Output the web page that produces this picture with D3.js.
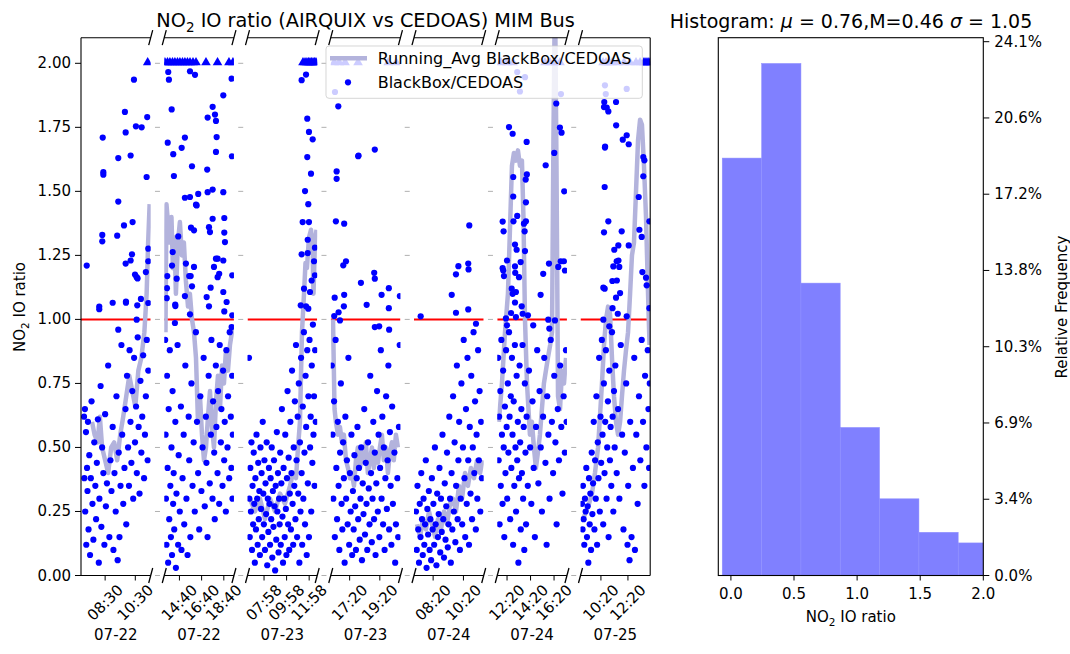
<!DOCTYPE html>
<html><head><meta charset="utf-8">
<script src="https://d3js.org/d3.v7.min.js"></script>
<style>body{margin:0;background:#fff}svg{display:block;font-family:"DejaVu Sans",sans-serif}</style>
</head><body><svg id="c" width="1070" height="654"></svg>
<script>
// ---------------- DATA ----------------
const segDates = ["07-22","07-22","07-23","07-23","07-24","07-24","07-25"];
// time windows of each broken-axis segment (decimal hours)
const segDomains = [[6.90,11.52],[13.30,19.58],[6.50,12.68],[16.08,20.70],[7.07,11.67],[11.50,17.43],[8.82,13.98]];
const segTicks = [[8.5,10.5],[14.667,16.667,18.667],[7.967,9.967,11.967],[17.333,19.333],[8.333,10.333],[12.333,14.333,16.333],[10.333,12.333]];
const segTickLabels = [["08:30","10:30"],["14:40","16:40","18:40"],["07:58","09:58","11:58"],["17:20","19:20"],["08:20","10:20"],["12:20","14:20","16:20"],["10:20","12:20"]];

// BlackBox/CEDOAS ratio points [hour, ratio]
const seg1Pts = [[7.28,1.21],[8.11,1.05],[8.11,1.04],[8.34,1.71],[8.38,1.575],[8.38,1.565],[8.31,1.33],[8.31,1.305],[9.0,1.065],[9.3,1.327],[9.37,1.46],[9.37,1.63],[9.37,0.96],[9.75,1.367],[9.81,1.81],[9.86,1.73],[9.86,1.218],[9.88,1.07],[9.88,1.065],[10.19,1.64],[10.19,1.23],[10.32,1.38],[10.28,1.254],[10.41,1.936],[10.48,1.175],[10.54,1.754],[10.59,1.165],[10.59,0.999],[10.63,1.055],[10.65,1.16],[10.92,1.75],[10.87,1.08],[11.2,1.185],[11.25,1.556],[11.29,1.79],[11.36,1.276],[11.36,1.227],[11.36,1.064],
[7.10,0.62],[7.12,0.38],[7.16,0.65],[7.18,0.25],[7.23,0.56],[7.25,0.12],[7.30,0.42],[7.33,0.33],[7.36,0.6],[7.40,0.18],[7.45,0.47],[7.50,0.08],[7.55,0.38],[7.60,0.68],[7.66,0.28],[7.72,0.14],[7.78,0.52],[7.85,0.35],[7.90,0.22],[7.95,0.44],[8.02,0.61],[8.08,0.05],[8.12,0.3],[8.2,0.74],[8.25,0.19],[8.3,0.5],[8.38,0.4],[8.45,0.12],[8.5,0.63],[8.55,0.27],[8.62,0.36],[8.7,0.82],[8.78,0.15],[8.85,0.45],[8.92,0.33],[9.0,0.58],[9.05,0.1],[9.12,0.4],[9.2,0.25],[9.25,0.7],[9.33,0.06],[9.4,0.48],[9.45,0.15],[9.52,0.35],[9.58,0.9],[9.63,0.55],[9.7,0.28],[9.78,0.42],[9.85,0.65],[9.9,0.2],[9.95,0.78],[10.02,0.5],[10.08,0.35],[10.12,0.88],[10.18,0.6],[10.24,0.44],[10.3,0.72],[10.36,0.3],[10.42,0.85],[10.48,0.52],[10.55,0.66],[10.6,0.4],[10.66,0.93],[10.72,0.58],[10.78,0.32],[10.84,0.76],[10.9,0.48],[10.96,0.62],[11.02,0.86],[11.08,0.38],[11.14,0.55],[11.2,0.7],[11.26,0.92],[11.32,0.45],[11.36,0.8]];
const seg2Pts = [[13.66,1.966],[13.72,1.936],[15.62,1.969],[16.07,1.955],[13.97,1.82],[13.61,1.69],[15.16,1.71],[14.87,1.67],[14.11,1.645],[14.17,1.56],[15.8,1.598],[15.16,1.475],[15.62,1.478],[16.36,1.49],[16.22,1.445],[14.06,1.263],[14.0,1.21],[14.42,1.159],[13.57,1.169],[13.54,1.122],[13.52,1.083],[14.29,1.058],[14.3,1.052],[14.56,1.324],[15.25,1.218],[15.16,1.091],[15.55,1.169],[15.68,1.169],[15.8,1.129],[15.62,1.02],[15.71,1.358],[15.98,1.348],[15.98,1.205],[16.16,1.448],[17.21,1.788],[17.17,1.585],[17.21,1.497],[17.33,1.36],[17.42,1.341],[17.66,1.393],[17.87,1.8],[17.96,1.775],[18.02,1.712],[17.96,1.654],[17.66,1.83],[17.66,1.507],[17.78,1.205],[18.11,1.165],[17.12,1.087],[17.33,1.051],[17.48,1.124],[17.96,1.237],[18.11,1.237],[18.25,1.178],[18.62,1.497],[18.62,1.875],[18.71,1.396],[18.71,1.339],[18.77,1.302],[18.62,1.23],[18.62,1.107],[18.71,1.031],[18.92,1.068],[19.37,1.94],[19.4,1.637],[19.43,1.172],[19.43,1.016],[19.37,0.97],[14.26,0.986],
[13.38,0.92],[13.42,0.55],[13.45,0.3],[13.5,0.12],[13.55,0.78],[13.6,0.42],[13.65,0.05],[13.7,0.65],[13.75,0.22],[13.8,0.88],[13.85,0.35],[13.9,0.15],[13.95,0.5],[14.0,0.08],[14.05,0.72],[14.1,0.28],[14.15,0.4],[14.2,0.18],[14.3,0.6],[14.35,0.03],[14.4,0.32],[14.5,0.9],[14.55,0.12],[14.6,0.47],[14.7,0.25],[14.8,0.66],[14.85,0.1],[14.95,0.38],[15.05,0.55],[15.1,0.2],[15.2,0.82],[15.3,0.3],[15.4,0.08],[15.5,0.62],[15.55,0.45],[15.65,0.15],[15.75,0.75],[15.85,0.35],[15.95,0.52],[16.05,0.25],[16.15,0.95],[16.25,0.6],[16.35,0.4],[16.45,0.18],[16.55,0.7],[16.65,0.33],[16.75,0.5],[16.85,0.85],[16.95,0.27],[17.05,0.62],[17.1,0.44],[17.2,0.15],[17.3,0.78],[17.4,0.36],[17.5,0.55],[17.55,0.92],[17.65,0.3],[17.7,0.68],[17.8,0.48],[17.85,0.22],[17.95,0.82],[18.0,0.58],[18.1,0.4],[18.15,0.72],[18.25,0.28],[18.3,0.9],[18.4,0.52],[18.45,0.65],[18.55,0.35],[18.6,0.8],[18.7,0.45],[18.75,0.6],[18.85,0.25],[18.9,0.88],[19.0,0.5],[19.05,0.7],[19.15,0.38],[19.2,0.95],[19.3,0.62],[19.35,0.42],[19.42,0.78],[19.48,0.55],[19.45,0.3]];
const seg3Pts = [[11.30,1.934],[11.69,1.956],[11.80,1.784],[11.95,1.732],[12.28,1.703],[11.80,1.634],[12.13,1.569],[11.60,1.501],[11.89,1.45],[11.39,1.38],[11.95,1.38],[11.84,1.311],[11.30,1.254],[11.84,1.259],[12.48,1.28],[12.40,1.227],[11.51,1.12],[12.19,1.152],[12.48,1.172],[12.04,1.107],[11.22,1.055],[11.69,1.051],[11.89,1.042],
[6.63,0.85],[6.66,0.3],[6.7,0.15],[6.75,0.42],[6.8,0.25],[6.85,0.52],[6.9,0.1],[6.95,0.35],[7.0,0.2],[7.05,0.48],[7.1,0.28],[7.15,0.05],[7.2,0.38],[7.25,0.18],[7.3,0.55],[7.35,0.3],[7.4,0.12],[7.45,0.44],[7.5,0.22],[7.55,0.33],[7.6,0.08],[7.65,0.5],[7.7,0.26],[7.75,0.4],[7.8,0.15],[7.85,0.6],[7.9,0.32],[7.95,0.2],[8.0,0.45],[8.05,0.1],[8.1,0.36],[8.15,0.24],[8.2,0.52],[8.25,0.04],[8.3,0.3],[8.35,0.17],[8.4,0.42],[8.45,0.28],[8.5,0.12],[8.55,0.38],[8.6,0.22],[8.65,0.5],[8.7,0.07],[8.75,0.33],[8.8,0.19],[8.85,0.45],[8.9,0.27],[8.95,0.02],[9.0,0.35],[9.05,0.14],[9.1,0.56],[9.15,0.25],[9.2,0.4],[9.25,0.09],[9.3,0.3],[9.35,0.2],[9.4,0.48],[9.45,0.12],[9.5,0.36],[9.55,0.65],[9.6,0.23],[9.65,0.05],[9.7,0.42],[9.75,0.3],[9.8,0.15],[9.85,0.55],[9.9,0.26],[9.95,0.08],[10.0,0.38],[10.05,0.72],[10.1,0.2],[10.15,0.46],[10.2,0.1],[10.25,0.32],[10.3,0.6],[10.35,0.18],[10.4,0.4],[10.45,0.8],[10.5,0.28],[10.55,0.12],[10.6,0.5],[10.65,0.35],[10.7,0.68],[10.75,0.22],[10.8,0.9],[10.85,0.45],[10.9,0.15],[10.95,0.62],[11.0,0.32],[11.05,0.75],[11.1,0.05],[11.15,0.52],[11.2,0.25],[11.25,0.85],[11.3,0.4],[11.35,0.12],[11.4,0.66],[11.45,0.3],[11.5,0.95],[11.55,0.48],[11.6,0.2],[11.65,0.78],[11.7,0.58],[11.75,0.08],[11.8,0.88],[11.85,0.36],[11.9,0.7],[11.95,0.15],[12.0,0.92],[12.05,0.5],[12.1,0.62],[12.15,0.25],[12.2,0.82],[12.25,0.44],[12.3,0.98],[12.35,0.55],[12.4,0.7],[12.45,0.35],[12.5,0.88],[12.55,0.6]];
const seg4Pts = [[16.36,1.888],[16.58,1.832],[17.90,1.637],[17.92,1.64],[19.0,1.663],[16.47,1.578],[16.47,1.549],[16.42,1.383],[16.97,1.374],[17.09,1.227],[16.91,1.211],[18.08,1.143],[18.96,1.182],[19.0,1.159],[19.93,1.122],[19.45,1.096],[16.34,1.085],[16.97,1.096],[18.46,1.057],[19.93,1.044],[16.95,1.051],[16.60,1.028],[16.31,1.013],[16.69,0.996],[20.66,1.091],[19.0,0.97],[19.29,0.973],[19.95,0.96],
[16.15,0.82],[16.2,0.55],[16.25,0.3],[16.3,0.68],[16.35,0.15],[16.4,0.92],[16.45,0.42],[16.5,0.22],[16.55,0.6],[16.6,0.35],[16.65,0.1],[16.7,0.48],[16.75,0.75],[16.8,0.28],[16.85,0.18],[16.9,0.52],[16.95,0.38],[17.0,0.05],[17.05,0.62],[17.1,0.3],[17.15,0.45],[17.2,0.2],[17.25,0.85],[17.3,0.12],[17.35,0.4],[17.4,0.25],[17.45,0.55],[17.5,0.08],[17.55,0.33],[17.6,0.18],[17.65,0.47],[17.7,0.27],[17.75,0.1],[17.8,0.38],[17.85,0.58],[17.9,0.22],[17.95,0.42],[18.0,0.14],[18.05,0.3],[18.1,0.5],[18.15,0.06],[18.2,0.36],[18.25,0.24],[18.3,0.65],[18.35,0.16],[18.4,0.44],[18.45,0.28],[18.5,0.1],[18.55,0.52],[18.6,0.34],[18.65,0.2],[18.7,0.78],[18.75,0.4],[18.8,0.13],[18.85,0.3],[18.9,0.6],[18.95,0.22],[19.0,0.48],[19.05,0.08],[19.1,0.36],[19.15,0.72],[19.2,0.25],[19.25,0.55],[19.3,0.15],[19.35,0.42],[19.4,0.88],[19.45,0.3],[19.5,0.62],[19.55,0.2],[19.6,0.5],[19.65,0.1],[19.7,0.38],[19.75,0.7],[19.8,0.26],[19.85,0.45],[19.9,0.82],[19.95,0.18],[20.0,0.56],[20.05,0.35],[20.1,0.12],[20.15,0.66],[20.2,0.28],[20.3,0.48],[20.35,0.05],[20.4,0.2],[20.5,0.38],[20.55,0.15],[20.6,0.58],[20.65,0.9]];
const seg5Pts = [[7.51,1.012],[9.56,1.096],[9.84,1.026],[9.84,1.176],[10.0,1.208],[10.65,1.218],[10.67,1.195],[10.65,1.039],[10.72,1.367],[11.16,0.983],
[7.2,0.25],[7.25,0.1],[7.3,0.35],[7.35,0.18],[7.4,0.05],[7.45,0.28],[7.5,0.15],[7.55,0.4],[7.6,0.22],[7.65,0.08],[7.7,0.3],[7.75,0.12],[7.8,0.2],[7.85,0.45],[7.9,0.03],[7.95,0.26],[8.0,0.16],[8.05,0.33],[8.1,0.1],[8.15,0.22],[8.2,0.06],[8.25,0.38],[8.3,0.18],[8.35,0.28],[8.4,0.12],[8.45,0.5],[8.5,0.2],[8.55,0.04],[8.6,0.32],[8.65,0.15],[8.7,0.24],[8.75,0.42],[8.8,0.09],[8.85,0.3],[8.9,0.17],[8.95,0.55],[9.0,0.22],[9.05,0.07],[9.1,0.36],[9.15,0.14],[9.2,0.27],[9.25,0.48],[9.3,0.11],[9.35,0.2],[9.4,0.62],[9.45,0.3],[9.5,0.05],[9.55,0.4],[9.6,0.18],[9.65,0.7],[9.7,0.25],[9.75,0.52],[9.8,0.13],[9.85,0.35],[9.9,0.82],[9.95,0.22],[10.0,0.45],[10.05,0.6],[10.1,0.1],[10.15,0.3],[10.2,0.75],[10.25,0.2],[10.3,0.5],[10.35,0.92],[10.4,0.38],[10.45,0.15],[10.5,0.65],[10.55,0.28],[10.6,0.85],[10.65,0.45],[10.7,0.12],[10.75,0.58],[10.8,0.32],[10.85,0.78],[10.9,0.22],[10.95,0.5],[11.0,0.95],[11.05,0.4],[11.1,0.68],[11.15,0.18],[11.2,0.55],[11.25,0.3],[11.3,0.88],[11.35,0.45],[11.4,0.72],[11.45,0.25],[11.5,0.6],[11.55,0.38]];
const seg6Pts = [[12.50,1.751],[12.81,1.725],[14.0,1.693],[12.86,1.556],[14.02,1.566],[13.92,1.546],[12.86,1.48],[13.94,1.457],[11.96,1.382],[12.04,1.344],[12.88,1.383],[13.20,1.404],[13.94,1.383],[13.77,1.374],[13.83,1.344],[13.01,1.292],[13.15,1.272],[13.86,1.267],[12.33,1.23],[13.49,1.224],[11.96,1.20],[12.01,1.191],[13.01,1.207],[13.03,1.182],[12.07,1.169],[13.35,1.165],[12.73,1.12],[12.81,1.10],[13.09,1.107],[13.01,1.066],[12.67,1.025],[13.09,1.009],[13.58,1.051],[13.66,1.022],[14.11,1.016],[12.24,1.004],[12.33,0.977],[14.56,0.977],[15.62,1.602],[16.35,1.65],[16.52,1.843],[16.83,1.749],[16.97,1.729],[17.20,1.50],[15.90,1.218],[15.41,1.178],[15.19,1.096],[16.69,1.205],[16.90,1.227],[17.18,1.227],[17.26,1.191],[15.84,0.999],[16.41,0.996],[15.93,0.964],[13.20,1.966],[13.86,1.946],[13.43,1.89],[16.92,1.88],
[11.58,0.85],[11.62,0.45],[11.66,0.62],[11.7,0.2],[11.75,0.72],[11.8,0.35],[11.85,0.92],[11.9,0.55],[11.95,0.28],[12.0,0.8],[12.05,0.5],[12.1,0.15],[12.15,0.66],[12.2,0.4],[12.25,0.88],[12.3,0.58],[12.35,0.3],[12.4,0.75],[12.45,0.48],[12.5,0.95],[12.55,0.62],[12.6,0.22],[12.65,0.7],[12.7,0.42],[12.75,0.85],[12.8,0.55],[12.85,0.12],[12.9,0.68],[12.95,0.35],[13.0,0.9],[13.05,0.5],[13.1,0.25],[13.15,0.78],[13.2,0.45],[13.25,0.6],[13.3,0.05],[13.35,0.38],[13.4,0.82],[13.45,0.52],[13.5,0.18],[13.55,0.65],[13.6,0.4],[13.65,0.9],[13.7,0.3],[13.75,0.58],[13.8,0.1],[13.85,0.75],[13.9,0.48],[13.95,0.2],[14.0,0.62],[14.1,0.35],[14.2,0.8],[14.3,0.5],[14.4,0.28],[14.5,0.68],[14.6,0.42],[14.7,0.15],[14.8,0.58],[14.9,0.88],[15.0,0.36],[15.1,0.72],[15.2,0.5],[15.3,0.25],[15.4,0.62],[15.5,0.85],[15.6,0.44],[15.7,0.12],[15.75,0.7],[15.85,0.55],[15.95,0.3],[16.05,0.92],[16.15,0.6],[16.25,0.4],[16.35,0.78],[16.45,0.52],[16.55,0.2],[16.65,0.65],[16.75,0.45],[16.85,0.82],[16.95,0.58],[17.05,0.32],[17.15,0.7],[17.25,0.48],[17.35,0.88],[17.4,0.6]];
const seg7Pts = [[10.58,1.849],[10.56,1.829],[10.76,1.827],[10.88,1.812],[10.63,1.671],[10.64,1.675],[11.45,1.849],[11.46,1.758],[11.95,1.702],[12.24,1.719],[12.39,1.684],[10.61,1.517],[13.47,1.634],[13.55,1.621],[13.47,1.559],[13.13,1.478],[10.88,1.383],[10.56,1.34],[11.87,1.344],[13.18,1.35],[13.92,1.383],[13.35,1.322],[11.32,1.272],[11.62,1.289],[12.39,1.289],[11.50,1.227],[11.63,1.23],[11.25,1.207],[11.69,1.205],[10.51,1.124],[10.61,1.12],[11.18,1.15],[11.51,1.152],[13.40,1.185],[13.67,1.163],[13.72,1.133],[11.45,1.085],[11.75,1.103],[11.19,1.044],[11.58,1.022],[12.24,1.012],[13.92,1.044],[10.51,0.999],[10.95,0.973],[10.63,1.914],[10.69,1.88],[12.24,1.90],
[8.93,0.28],[8.97,0.18],[9.0,0.35],[9.05,0.22],[9.1,0.12],[9.15,0.3],[9.2,0.25],[9.25,0.42],[9.3,0.15],[9.35,0.27],[9.4,0.05],[9.45,0.38],[9.5,0.2],[9.55,0.32],[9.6,0.1],[9.65,0.48],[9.7,0.24],[9.75,0.36],[9.8,0.6],[9.85,0.18],[9.9,0.45],[9.95,0.3],[10.0,0.7],[10.05,0.12],[10.1,0.52],[10.15,0.38],[10.2,0.85],[10.25,0.25],[10.3,0.62],[10.35,0.44],[10.4,0.92],[10.45,0.55],[10.5,0.2],[10.55,0.75],[10.6,0.4],[10.65,0.6],[10.7,0.88],[10.75,0.3],[10.8,0.5],[10.85,0.68],[10.9,0.15],[10.95,0.8],[11.0,0.45],[11.05,0.58],[11.1,0.35],[11.15,0.95],[11.2,0.62],[11.25,0.25],[11.3,0.72],[11.35,0.5],[11.4,0.82],[11.5,0.4],[11.6,0.65],[11.7,0.3],[11.8,0.9],[11.9,0.55],[12.0,0.18],[12.1,0.48],[12.2,0.75],[12.3,0.12],[12.35,0.35],[12.45,0.06],[12.5,0.6],[12.6,0.15],[12.7,0.42],[12.8,0.85],[12.85,0.1],[12.95,0.55],[13.05,0.28],[13.15,0.7],[13.25,0.45],[13.35,0.92],[13.45,0.6],[13.55,0.35],[13.6,0.78],[13.7,0.5],[13.8,0.88],[13.85,0.65],[13.9,0.42],[13.95,0.75]];

// ratios above 2 (drawn as triangles on the 2.0 line): hours
const seg1Over = [11.32];
const seg2Over = [13.36,13.59,13.81,14.04,14.26,14.49,14.71,14.94,15.16,15.39,15.62,15.89,16.16,17.06,18.10,19.13,19.49];
const seg3Over = [11.42,11.60,11.77,11.91,12.04,12.17,12.31,12.44,12.57];
const seg4Over = [16.31,16.64,17.03,17.89,19.89,20.42];
const seg5Over = [];
const seg6Over = [11.81,12.33,12.84,15.56,15.99,16.41,16.84];
const seg7Over = [10.49,10.71,10.93,11.16,11.60,12.04,12.49,12.93,13.23,13.52,13.67,13.82,13.97];

// running average [hour, ratio]
const seg1Avg = [[7.63,0.6],[7.8,0.55],[8.0,0.52],[8.15,0.62],[8.3,0.5],[8.5,0.45],[8.7,0.4],[8.9,0.5],[9.1,0.52],[9.3,0.45],[9.5,0.55],[9.7,0.62],[9.9,0.7],[10.1,0.78],[10.3,0.72],[10.5,0.66],[10.7,0.8],[10.9,0.85],[11.1,0.95],[11.25,1.1],[11.35,1.3],[11.45,1.45]];
const seg2Avg = [[13.41,0.95],[13.50,1.45],[13.63,1.38],[13.81,1.3],[13.95,1.4],[14.08,1.2],[14.22,1.32],[14.35,1.1],[14.53,1.3],[14.71,1.38],[14.89,1.25],[15.07,1.3],[15.25,1.15],[15.44,1.05],[15.61,1.1],[15.80,1.0],[15.98,0.95],[16.16,0.85],[16.34,0.6],[16.52,0.7],[16.70,0.55],[16.88,0.45],[17.06,0.5],[17.24,0.62],[17.42,0.72],[17.60,0.58],[17.78,0.5],[17.96,0.68],[18.14,0.78],[18.32,0.65],[18.50,0.82],[18.68,0.75],[18.86,0.88],[19.04,0.8],[19.22,0.9],[19.40,0.95],[19.53,0.98]];
const seg3Avg = [[6.72,0.3],[7.16,0.25],[7.61,0.3],[8.05,0.22],[8.49,0.3],[8.94,0.25],[9.38,0.32],[9.82,0.28],[10.27,0.35],[10.53,0.4],[10.80,0.38],[10.98,0.5],[11.15,0.6],[11.33,0.95],[11.51,1.1],[11.64,1.22],[11.77,1.2],[11.95,1.32],[12.13,1.35],[12.26,1.3],[12.35,1.1],[12.48,1.3],[12.62,1.35]];
const seg4Avg = [[16.23,1.0],[16.33,0.65],[16.42,0.6],[16.56,0.55],[16.69,0.58],[16.82,0.52],[16.95,0.55],[17.09,0.45],[17.22,0.42],[17.35,0.38],[17.48,0.4],[17.62,0.35],[17.75,0.45],[17.88,0.5],[18.02,0.42],[18.15,0.48],[18.28,0.45],[18.41,0.52],[18.54,0.4],[18.68,0.45],[18.81,0.5],[18.94,0.42],[19.07,0.48],[19.21,0.44],[19.34,0.5],[19.47,0.55],[19.60,0.45],[19.74,0.5],[19.87,0.4],[20.00,0.48],[20.13,0.52],[20.26,0.45],[20.40,0.55],[20.53,0.5]];
const seg5Avg = [[7.27,0.2],[7.47,0.15],[7.66,0.22],[7.86,0.18],[8.06,0.25],[8.26,0.2],[8.46,0.15],[8.65,0.22],[8.85,0.18],[9.05,0.25],[9.25,0.2],[9.45,0.28],[9.64,0.3],[9.84,0.25],[10.04,0.35],[10.24,0.3],[10.44,0.4],[10.63,0.35],[10.83,0.42],[11.03,0.38],[11.23,0.45],[11.43,0.4],[11.59,0.45]];
const seg6Avg = [[11.64,0.6],[11.90,0.75],[12.16,0.95],[12.41,1.1],[12.58,1.35],[12.75,1.6],[12.92,1.65],[13.09,1.62],[13.26,1.66],[13.43,1.6],[13.60,1.62],[13.73,1.4],[13.86,1.0],[14.03,0.75],[14.28,0.55],[14.45,0.6],[14.62,0.5],[14.79,0.42],[14.96,0.48],[15.13,0.55],[15.30,0.65],[15.47,0.75],[15.64,0.8],[15.81,0.85],[16.00,0.9],[16.16,0.95],[16.28,1.7],[16.41,2.3],[16.54,1.6],[16.67,0.7],[16.84,0.65],[17.01,0.8],[17.18,0.75],[17.35,0.85]];
const seg7Avg = [[9.01,0.22],[9.23,0.25],[9.45,0.28],[9.67,0.32],[9.89,0.4],[10.12,0.5],[10.26,0.62],[10.41,0.75],[10.56,0.9],[10.71,1.0],[10.86,1.05],[11.01,1.02],[11.15,0.85],[11.30,0.7],[11.45,0.6],[11.60,0.55],[11.75,0.6],[11.89,0.7],[12.04,0.8],[12.19,0.88],[12.34,0.95],[12.49,1.1],[12.63,1.25],[12.78,1.3],[12.93,1.5],[13.08,1.7],[13.23,1.78],[13.37,1.76],[13.52,1.6],[13.67,1.4],[13.82,1.1],[13.93,0.9]];

const yTickVals = [0,0.25,0.5,0.75,1.0,1.25,1.5,1.75,2.0];

// histogram
const histEdges = [-0.069,0.243,0.555,0.866,1.178,1.490,1.801,2.113];
const histPct = [18.83,23.10,13.19,6.68,3.46,1.95,1.47];
const histXTicks = [0,0.5,1.0,1.5,2.0];
const histYTickVals = [0,3.44,6.88,10.32,13.76,17.20,20.64,24.08];
const histYTickLabels = ["0.0%","3.4%","6.9%","10.3%","13.8%","17.2%","20.6%","24.1%"];

// ---------------- DRAW ----------------
const svg = d3.select('#c');
const L = 81, R = 650.2, T = 37.7, B = 575.5;
const nSeg = 7, gap = 13.55;
const segW = (R - L - gap*(nSeg-1))/nSeg;
const AVG = 'rgb(179,179,220)', DOT = '#0000ff';
const y = d3.scaleLinear().domain([0,2.1]).range([B,T]);
const segPts=[seg1Pts,seg2Pts,seg3Pts,seg4Pts,seg5Pts,seg6Pts,seg7Pts];
const segOver=[seg1Over,seg2Over,seg3Over,seg4Over,seg5Over,seg6Over,seg7Over];
const segAvg=[seg1Avg,seg2Avg,seg3Avg,seg4Avg,seg5Avg,seg6Avg,seg7Avg];
const fsTick = 15, fsRot = 15;

const defs = svg.append('defs');
// grid dashes visible in the gaps
for (let i=0;i<nSeg-1;i++){
  const gx = L + (i+1)*segW + i*gap + gap/2;
  svg.append('g').selectAll('line').data(yTickVals).join('line')
    .attr('x1',gx-2.5).attr('x2',gx+2.5).attr('y1',d=>y(d)).attr('y2',d=>y(d))
    .attr('stroke','#b0b0b0').attr('stroke-width',1);
}
const tri = d3.symbol().type(d3.symbolTriangle).size(40);

for (let i=0;i<nSeg;i++){
  const x0 = L + i*(segW+gap), x1 = x0+segW;
  const x = d3.scaleLinear().domain(segDomains[i]).range([x0,x1]);
  defs.append('clipPath').attr('id','cp'+i).append('rect').attr('x',x0).attr('y',T).attr('width',segW).attr('height',B-T);
  const g = svg.append('g');
  const gc = g.append('g').attr('clip-path',`url(#cp${i})`);
  gc.append('line').attr('x1',x0).attr('x2',x1).attr('y1',y(1)).attr('y2',y(1)).attr('stroke','red').attr('stroke-width',2);
  gc.append('path').datum(segAvg[i]).attr('fill','none').attr('stroke',AVG).attr('stroke-width',4.5).attr('stroke-linejoin','round')
    .attr('d', d3.line().x(d=>x(d[0])).y(d=>y(d[1])));
  gc.append('g').selectAll('circle').data(segPts[i]).join('circle')
    .attr('cx',d=>x(d[0])).attr('cy',d=>y(d[1])).attr('r',3.1).attr('fill',DOT);
  gc.append('g').selectAll('path').data(segOver[i]).join('path')
    .attr('d',tri).attr('transform',d=>`translate(${x(d)},${y(2)-0.8})`).attr('fill',DOT);
  // spines
  g.append('line').attr('x1',x0).attr('x2',x1).attr('y1',T).attr('y2',T).attr('stroke','#000').attr('stroke-width',1.1);
  g.append('line').attr('x1',x0).attr('x2',x1).attr('y1',B).attr('y2',B).attr('stroke','#000').attr('stroke-width',1.1);
  // break marks
  const ends = [];
  if (i>0) ends.push(x0);
  if (i<nSeg-1) ends.push(x1);
  ends.forEach(ex=>[T,B].forEach(ey=>{
    g.append('line').attr('x1',ex-2).attr('y1',ey+7.5).attr('x2',ex+2).attr('y2',ey-7.5).attr('stroke','#000').attr('stroke-width',1.3);
  }));
  // x ticks
  segTicks[i].forEach((tv,k)=>{
    const tx = x(tv);
    g.append('line').attr('x1',tx).attr('x2',tx).attr('y1',B).attr('y2',B+5).attr('stroke','#000').attr('stroke-width',1);
    const t = g.append('text').attr('text-anchor','middle').attr('dominant-baseline','central')
      .style('font-size',fsRot+'px').text(segTickLabels[i][k]);
    const len = t.node().getComputedTextLength();
    const half = (len + fsRot*0.85)/(2*Math.SQRT2);
    t.attr('transform',`translate(${tx},${B+7.5+half}) rotate(-45)`);
  });
  g.append('text').attr('x',(x0+x1)/2).attr('y',640).attr('text-anchor','middle').style('font-size',fsTick+'px').text(segDates[i]);
}
// outer left / right spines
svg.append('line').attr('x1',L).attr('x2',L).attr('y1',T).attr('y2',B).attr('stroke','#000').attr('stroke-width',1.1);
svg.append('line').attr('x1',R).attr('x2',R).attr('y1',T).attr('y2',B).attr('stroke','#000').attr('stroke-width',1.1);
// y axis
const ya = svg.append('g');
yTickVals.forEach(v=>{
  ya.append('line').attr('x1',L-6).attr('x2',L).attr('y1',y(v)).attr('y2',y(v)).attr('stroke','#000');
  ya.append('text').attr('x',L-10).attr('y',y(v)).attr('text-anchor','end').attr('dominant-baseline','central')
    .style('font-size',fsTick+'px').text(d3.format('.2f')(v));
});
const yl = svg.append('text').attr('transform','translate(25,307) rotate(-90)').attr('text-anchor','middle').style('font-size','15px');
yl.append('tspan').text('NO');
yl.append('tspan').attr('dy',4).style('font-size','10.5px').text('2');
yl.append('tspan').attr('dy',-4).text(' IO ratio');
// title
const tt = svg.append('text').attr('x',(L+R)/2).attr('y',27).attr('text-anchor','middle').style('font-size','19.3px');
tt.append('tspan').text('NO');
tt.append('tspan').attr('dy',5).style('font-size','13.5px').text('2');
tt.append('tspan').attr('dy',-5).text(' IO ratio (AIRQUIX vs CEDOAS) MIM Bus');

// legend
const lg = svg.append('g');
lg.append('rect').attr('x',326).attr('y',46).attr('width',316.3).attr('height',52.3).attr('rx',3)
  .attr('fill','#fff').attr('fill-opacity',0.8).attr('stroke','#cccccc').attr('stroke-opacity',0.8);
lg.append('line').attr('x1',330).attr('x2',367).attr('y1',58.3).attr('y2',58.3).attr('stroke',AVG).attr('stroke-width',4.5);
lg.append('text').attr('x',377.7).attr('y',58.3).attr('dominant-baseline','central').style('font-size','16px').text('Running_Avg BlackBox/CEDOAS');
lg.append('circle').attr('cx',348).attr('cy',82.3).attr('r',3.1).attr('fill',DOT);
lg.append('text').attr('x',377.7).attr('y',82.3).attr('dominant-baseline','central').style('font-size','16px').text('BlackBox/CEDOAS');

// ---------------- HISTOGRAM ----------------
const HL = 718.3, HR = 983.3;
const xh = d3.scaleLinear().domain([-0.1,2.0]).range([HL,HR]);
const yh = d3.scaleLinear().domain([0,24.26]).range([B,T]);
defs.append('clipPath').attr('id','cph').append('rect').attr('x',HL).attr('y',T).attr('width',HR-HL).attr('height',B-T);
const bins = histPct.map((p,i)=>({x0:histEdges[i],x1:histEdges[i+1],p}));
svg.append('g').attr('clip-path','url(#cph)').selectAll('rect').data(bins).join('rect')
  .attr('x',d=>xh(d.x0)).attr('width',d=>xh(d.x1)-xh(d.x0)).attr('y',d=>yh(d.p)).attr('height',d=>B-yh(d.p))
  .attr('fill','#8080ff').attr('stroke','#9090ff').attr('stroke-width',0.5);
svg.append('rect').attr('x',HL).attr('y',T).attr('width',HR-HL).attr('height',B-T).attr('fill','none').attr('stroke','#000').attr('stroke-width',1.1);
histXTicks.forEach(v=>{
  svg.append('line').attr('x1',xh(v)).attr('x2',xh(v)).attr('y1',B).attr('y2',B+5).attr('stroke','#000');
  svg.append('text').attr('x',xh(v)).attr('y',599).attr('text-anchor','middle').style('font-size',fsTick+'px').text(d3.format('.1f')(v));
});
histYTickVals.forEach((v,k)=>{
  svg.append('line').attr('x1',HR).attr('x2',HR+6).attr('y1',yh(v)).attr('y2',yh(v)).attr('stroke','#000');
  svg.append('text').attr('x',HR+11).attr('y',yh(v)).attr('dominant-baseline','central').style('font-size',fsTick+'px').text(histYTickLabels[k]);
});
const hx = svg.append('text').attr('x',(HL+HR)/2).attr('y',622).attr('text-anchor','middle').style('font-size','15px');
hx.append('tspan').text('NO');
hx.append('tspan').attr('dy',4).style('font-size','10.5px').text('2');
hx.append('tspan').attr('dy',-4).text(' IO ratio');
svg.append('text').attr('transform','translate(1067,307) rotate(-90)').attr('text-anchor','middle').style('font-size','15px').text('Relative Frequency');
const ht = svg.append('text').attr('x',851).attr('y',28).attr('text-anchor','middle').style('font-size','19px');
ht.append('tspan').text('Histogram: ');
ht.append('tspan').style('font-style','italic').text('μ');
ht.append('tspan').text(' = 0.76,M=0.46 ');
ht.append('tspan').style('font-style','italic').text('σ');
ht.append('tspan').text(' = 1.05');
</script></body></html>
